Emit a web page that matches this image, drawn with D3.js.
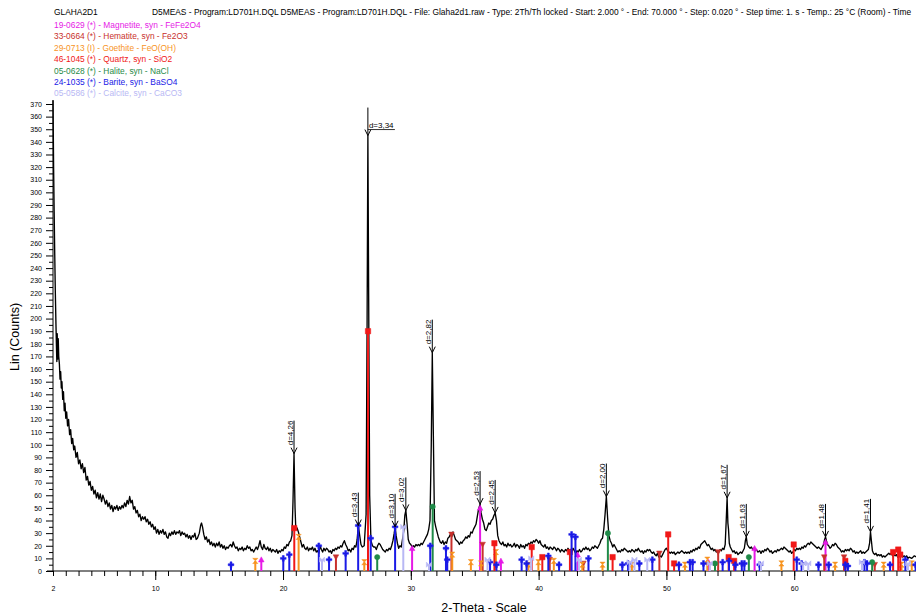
<!DOCTYPE html>
<html><head><meta charset="utf-8">
<script src="https://cdn.jsdelivr.net/npm/d3@7"></script>
<style>body{margin:0;background:#fff} svg{display:block;font-family:"Liberation Sans",Arial,sans-serif}</style>
</head><body><svg id="c" width="916" height="616"></svg>
<script>
// ---------- DATA ----------
const headerId = "GLAHA2D1";
const headerInfo = "D5MEAS - Program:LD701H.DQL D5MEAS - Program:LD701H.DQL - File: Glaha2d1.raw - Type: 2Th/Th locked - Start: 2.000 ° - End: 70.000 ° - Step: 0.020 ° - Step time: 1. s - Temp.: 25 °C (Room) - Time";
const phaseNames = [
  "19-0629 (*) - Magnetite, syn - FeFe2O4",
  "33-0664 (*) - Hematite, syn - Fe2O3",
  "29-0713 (I) - Goethite - FeO(OH)",
  "46-1045 (*) - Quartz, syn - SiO2",
  "05-0628 (*) - Halite, syn - NaCl",
  "24-1035 (*) - Barite, syn - BaSO4",
  "05-0586 (*) - Calcite, syn - CaCO3"
];
const xTickLabels = [2,10,20,30,40,50,60];
const yTickLabels = d3.range(0, 371, 10);
const xTitle = "2-Theta - Scale";
const yTitle = "Lin (Counts)";

// measured scan [2theta, counts]
const scan = [
[2.0,373],[2.02,350],[2.05,318],[2.09,285],[2.13,255],[2.18,222],[2.23,196],[2.27,178],[2.3,166],[2.33,188],[2.37,168],[2.41,184],[2.45,170],[2.5,164],[2.55,152],[2.6,158],[2.65,145],[2.7,150],[2.76,136],[2.82,142],[2.88,127],[2.94,133],[3.0,121],[3.07,126],[3.14,115],[3.22,120],[3.3,108],[3.38,112],[3.46,101],[3.54,105],[3.62,96],[3.7,99],[3.8,90],[3.9,94],[4.0,85],[4.1,88],[4.2,81],[4.3,85],[4.4,78],[4.5,82],[4.6,72],[4.7,75],[4.8,68],[4.9,71],[5.0,64],[5.1,67],[5.2,61],[5.3,64],[5.4,58],[5.5,62],[5.6,57],[5.7,61],[5.8,55],[5.9,60],
[6.0,57],[6.1,53],[6.2,56],[6.3,51],[6.4,54],[6.5,49],[6.6,52],[6.7,47],[6.8,51],[6.9,49],[7.0,52],[7.1,48],[7.2,51],[7.3,49],[7.4,52],[7.5,50],[7.6,54],[7.7,51],[7.8,56],[7.9,53],[8.0,59],[8.1,54],[8.2,56],[8.3,49],[8.4,51],[8.5,46],[8.6,48],[8.7,43],[8.8,45],[8.9,40],[9.0,43],
[9.1,41],[9.2,43],[9.3,39],[9.4,41],[9.5,37],[9.6,39],[9.7,35],[9.8,37],[9.9,33],[10.0,35],[10.1,30],[10.2,33],[10.3,29],[10.4,32],[10.5,30],[10.6,33],[10.7,29],[10.8,31],[10.9,27],[11.0,26],[11.1,30],[11.2,28],[11.3,31],[11.4,29],[11.5,32],[11.6,29],[11.7,31],[11.8,30],[11.9,32],[12.0,28],[12.1,31],[12.2,29],[12.3,30],[12.4,27],[12.5,29],[12.6,26],[12.7,28],[12.8,25],[12.9,28],[13.0,27],[13.1,30],[13.2,25],[13.3,26],[13.45,30],[13.55,36],[13.62,38],[13.7,35],[13.8,29],[13.9,25],
[14.0,27],[14.1,23],[14.2,25],[14.3,21],[14.4,23],[14.5,20],[14.6,22],[14.7,19],[14.8,22],[14.9,20],[15.0,23],[15.1,19],[15.2,21],[15.3,18],[15.4,20],[15.5,17],[15.6,19],[15.7,18],[15.8,20],[15.9,21],[16.0,19],[16.1,23],[16.2,20],[16.3,18],[16.4,19],[16.5,16],[16.6,18],[16.7,17],[16.8,19],[16.9,16],[17.0,18],[17.1,17],[17.2,20],[17.3,18],[17.4,19],[17.5,16],[17.6,17],[17.7,15],[17.8,17],[17.9,19],[18.0,17],[18.1,20],[18.2,24],[18.3,19],[18.4,17],[18.5,21],[18.6,18],[18.7,17],[18.8,19],[18.9,16],[19.0,18],[19.1,15],[19.2,17],[19.3,16],[19.4,15],[19.5,17],[19.6,14],[19.7,16],[19.8,15],[19.9,17],[20.0,16],[20.1,19],[20.2,18],[20.3,21],[20.4,20],[20.5,23],[20.6,24],[20.7,28],[20.78,55],[20.86,93],[20.94,50],[21.0,33],[21.1,34],[21.2,31],[21.3,27],[21.4,23],
[21.5,19],[21.6,21],[21.7,18],[21.8,17],[21.9,19],[22.0,16],[22.1,18],[22.2,17],[22.3,19],[22.4,16],[22.5,18],[22.6,15],[22.7,16],[22.8,14],[22.9,20],[23.0,17],[23.1,15],[23.2,18],[23.3,16],[23.4,18],[23.5,17],[23.6,15],[23.7,16],[23.8,14],[23.9,17],[24.0,16],[24.1,18],[24.2,17],[24.3,19],[24.4,18],[24.5,20],[24.6,19],[24.7,22],[24.8,24],[24.9,21],[25.0,19],[25.1,16],[25.2,17],[25.3,15],[25.4,18],[25.5,17],[25.6,20],[25.7,19],[25.8,25],[25.89,36],[26.0,28],[26.1,21],[26.2,19],[26.35,20],[26.5,45],[26.58,200],[26.64,345],[26.7,220],[26.78,60],[26.88,24],[27.0,20],[27.1,19],
[27.2,19],[27.3,17],[27.4,20],[27.5,22],[27.6,21],[27.7,19],[27.8,17],[27.9,16],[28.0,15],[28.1,17],[28.2,16],[28.3,18],[28.4,17],[28.5,20],[28.6,24],[28.7,30],[28.77,35],[28.85,28],[28.95,22],[29.05,18],[29.15,20],[29.25,19],[29.35,25],[29.45,32],[29.53,44],[29.61,48],[29.7,38],[29.8,25],[29.9,22],[30.0,21],[30.1,19],[30.2,20],[30.3,19],[30.4,21],[30.5,20],[30.6,21],[30.7,20],[30.8,22],[30.9,21],[31.0,23],[31.1,25],[31.2,27],[31.3,29],[31.4,33],[31.5,40],[31.6,100],[31.68,173],[31.76,110],[31.85,40],[31.95,35],[32.05,31],[32.15,27],[32.3,23],
[32.4,22],[32.5,24],[32.6,21],[32.7,23],[32.8,22],[32.9,26],[33.0,27],[33.1,29],[33.2,27],[33.3,31],[33.4,28],[33.5,25],[33.6,24],[33.7,23],[33.8,21],[33.9,23],[34.0,22],[34.1,24],[34.2,25],[34.3,27],[34.4,26],[34.5,28],[34.6,27],[34.7,31],[34.8,30],[34.9,33],[35.0,35],[35.1,37],[35.2,43],[35.3,49],[35.42,53],[35.5,46],[35.6,41],[35.7,38],[35.8,33],[35.9,32],[36.0,35],[36.1,38],[36.2,37],[36.3,40],[36.4,41],[36.5,44],[36.6,46],[36.7,40],[36.8,28],[36.9,24],[37.0,22],
[37.1,21],[37.2,23],[37.3,20],[37.4,21],[37.5,19],[37.6,22],[37.7,20],[37.8,21],[37.9,19],[38.0,20],[38.1,22],[38.2,19],[38.3,21],[38.4,20],[38.5,18],[38.6,21],[38.7,19],[38.8,20],[38.9,18],[39.0,21],[39.1,20],[39.2,22],[39.3,21],[39.4,23],[39.5,22],[39.6,24],[39.7,23],[39.8,25],[39.9,24],[40.0,22],[40.1,24],[40.2,21],[40.3,20],[40.4,19],[40.5,21],[40.6,18],[40.7,19],[40.8,17],[40.9,19],[41.0,18],[41.1,17],[41.2,19],[41.3,18],[41.4,16],[41.5,18],[41.6,17],[41.7,15],[41.8,17],[41.9,16],[42.0,15],[42.1,17],[42.2,16],[42.3,18],[42.4,16],[42.5,17],[42.6,15],[42.7,18],[42.8,16],[42.9,14],[43.0,16],[43.1,15],[43.2,17],[43.3,15],[43.4,16],[43.5,18],[43.6,17],[43.7,19],[43.8,17],[43.9,18],[44.0,16],[44.1,17],[44.2,19],[44.3,18],[44.4,20],[44.5,19],[44.6,18],[44.7,20],[44.8,22],[44.9,25],[45.0,26],[45.1,33],[45.2,45],[45.3,59],[45.4,42],[45.5,28],[45.6,24],[45.7,22],[45.8,19],[45.9,21],
[46.0,19],[46.1,17],[46.2,15],[46.3,16],[46.4,15],[46.5,17],[46.6,16],[46.7,18],[46.8,17],[46.9,16],[47.0,15],[47.1,16],[47.2,15],[47.3,17],[47.4,16],[47.5,15],[47.6,17],[47.7,16],[47.8,18],[47.9,16],[48.0,15],[48.1,16],[48.2,14],[48.3,16],[48.4,15],[48.5,17],[48.6,16],[48.7,17],[48.8,15],[48.9,14],[49.0,15],[49.1,13],[49.2,12],[49.3,14],[49.4,11],[49.5,12],[49.6,11],[49.7,13],[49.8,15],[49.9,17],[50.0,18],[50.1,16],[50.2,15],[50.3,14],[50.4,15],[50.5,14],[50.6,15],[50.7,13],[50.8,14],[50.9,15],[51.0,14],[51.1,15],[51.2,16],[51.3,15],[51.4,14],[51.5,15],[51.6,14],[51.7,15],[51.8,14],[51.9,16],[52.0,15],[52.1,17],[52.2,16],[52.3,18],[52.4,17],[52.5,19],[52.6,18],[52.7,21],[52.8,22],[52.9,23],[53.0,24],[53.1,22],[53.2,20],[53.3,21],[53.4,19],[53.5,17],[53.6,18],[53.7,16],[53.8,17],[53.9,15],[54.0,16],[54.1,15],[54.2,17],[54.3,16],[54.4,18],[54.5,17],[54.6,21],[54.68,40],[54.75,58],[54.81,38],[54.86,33],[54.92,22],[55.0,19],[55.1,17],[55.2,15],[55.3,16],[55.4,14],[55.5,15],[55.6,13],[55.7,14],[55.8,15],[55.9,14],[56.0,16],[56.1,18],[56.18,24],[56.25,27],[56.33,21],[56.45,19],[56.55,18],[56.65,19],[56.75,17],[56.85,18],[56.95,16],[57.05,17],[57.15,15],[57.3,16],[57.4,14],
[57.5,16],[57.6,15],[57.7,17],[57.8,16],[57.9,18],[58.0,17],[58.1,15],[58.2,16],[58.3,14],[58.4,15],[58.5,16],[58.6,15],[58.7,17],[58.8,16],[58.9,17],[59.0,18],[59.1,17],[59.2,19],[59.3,18],[59.4,17],[59.5,16],[59.6,15],[59.7,16],[59.8,14],[59.9,15],[60.0,17],[60.1,16],[60.2,18],[60.3,17],[60.4,18],[60.5,17],[60.6,19],[60.7,18],[60.8,20],[60.9,19],[61.0,21],[61.1,22],[61.2,21],[61.3,23],[61.4,22],[61.5,21],[61.6,20],[61.7,19],[61.8,18],[61.9,19],[62.0,18],[62.1,17],[62.2,19],[62.3,21],[62.38,25],[62.45,27],[62.52,24],[62.6,21],[62.7,20],[62.8,18],[62.9,19],[63.0,21],[63.1,20],[63.2,22],[63.3,21],[63.4,19],[63.5,18],[63.6,17],[63.7,15],[63.8,16],[63.9,15],[64.0,17],[64.1,16],[64.2,17],[64.3,16],[64.4,18],[64.5,17],[64.6,15],[64.7,16],[64.8,14],[64.9,15],[65.0,14],[65.1,15],[65.2,16],[65.3,14],[65.4,15],[65.5,14],[65.6,15],[65.7,16],[65.8,17],[65.9,22],[65.97,31],[66.04,24],[66.12,16],[66.2,14],[66.3,13],[66.4,14],[66.5,12],[66.6,13],[66.7,12],[66.8,13],[66.9,11],[67.0,12],[67.1,11],[67.2,12],[67.3,13],[67.4,14],[67.5,13],[67.6,14],[67.7,12],[67.8,13],[67.9,12],[68.0,13],[68.1,11],[68.2,12],[68.3,13],[68.4,12],[68.5,11],[68.6,12],[68.7,11],[68.8,12],[68.9,10],[69.0,11],[69.2,10],[69.4,12],[69.6,11]
];

// labelled peaks
const peakAngles = [20.86, 25.89, 26.64, 28.77, 29.61, 31.68, 35.42, 36.6, 45.3, 54.75, 56.25, 62.45, 65.97];
const peakCounts = [93, 36, 345, 35, 48, 173, 53, 46, 59, 58, 27, 27, 31];
const peakLabels = ["d=4,26","d=3,43","d=3,34","d=3,10","d=3,02","d=2,82","d=2,53","d=2,45","d=2,00","d=1,67","d=1,63","d=1,48","d=1,41"];

// reference patterns [2theta, counts]
const magnetiteSticks = [[18.3,9],[30.1,18],[35.42,50],[37.05,8],[43.05,13],[53.3,7],[56.9,18],[62.45,23]];
const hematiteSticks = [[24.14,11],[33.18,29],[35.62,21],[40.87,9],[43.5,6],[49.45,14],[54.05,15],[62.35,11],[63.9,11],[66.3,5]];
const goethiteSticks = [[17.83,8],[21.22,27],[26.36,7],[33.24,13],[34.7,7],[35.5,6],[36.66,15],[39.2,5],[39.98,7],[41.19,8],[43.42,5],[45.0,5],[47.3,5],[51.45,5],[53.2,9],[59.0,6],[63.2,5],[67.0,5],[68.4,5],[69.2,6]];
const quartzSticks = [[20.88,34],[26.65,190],[36.54,22],[39.46,19],[40.29,11],[42.45,15],[45.79,11],[50.14,29],[50.6,6],[54.87,11],[55.3,8],[59.96,21],[64.0,8],[67.74,15],[68.14,17],[68.3,13]];
const haliteSticks = [[27.37,11],[31.71,51],[45.42,30],[53.8,6],[56.45,11],[66.1,7]];
const bariteSticks = [[15.93,5],[20.02,10],[20.49,13],[22.8,20],[23.6,9],[24.9,14],[25.88,36],[26.86,26],[28.77,35],[31.52,20],[32.75,18],[32.85,9],[36.2,7],[36.7,5],[38.67,9],[39.06,6],[40.76,12],[41.6,5],[42.58,29],[42.88,27],[43.9,10],[46.55,5],[47.0,6],[47.88,6],[48.9,9],[50.98,5],[51.84,7],[52.05,7],[52.9,6],[54.4,7],[54.9,8],[55.4,5],[55.9,6],[56.1,6],[57.3,5],[60.2,9],[60.58,6],[61.9,5],[62.7,5],[64.0,5],[64.2,4],[65.5,7],[65.7,6],[67.5,5],[68.7,9],[69.5,5]];
const calciteSticks = [[23.05,9],[29.41,35],[31.42,5],[36.0,9],[39.42,10],[43.15,9],[47.12,7],[47.5,9],[48.5,9],[53.4,6],[57.4,6],[60.7,6],[61.1,6],[65.3,7],[68.9,6]];

// ---------- STYLE ----------
const phaseColors = ["#e619e6","#c8302c","#f7931e","#f01818","#1f8a48","#1a1ae6","#b8b8f4"];
const markerPaths = [
  "M0,-2.8L2.8,2.3L-2.8,2.3Z",            // triangle up
  "M0,2.8L2.8,-2.3L-2.8,-2.3Z",            // triangle down
  "M-2.6,-2.6H2.6L-2.6,2.6H2.6Z",          // hourglass
  "M-2.7,-2.7H2.7V2.7H-2.7Z",              // square
  d3.symbol(d3.symbolCircle, 22)(),        // circle
  d3.symbol(d3.symbolCross, 18)(),         // cross
  "M-2.6,-2.6V2.6L2.6,-2.6V2.6Z"           // bowtie
];
const allSticks = [magnetiteSticks, hematiteSticks, goethiteSticks, quartzSticks, haliteSticks, bariteSticks, calciteSticks];

const svg = d3.select("#c");
const x = d3.scaleLinear().domain([2,70]).range([53,922]);
const y = d3.scaleLinear().domain([0,370]).range([571,104]);

// header & legend
svg.append("text").attr("x",54).attr("y",15).attr("font-size",8.4).text(headerId);
svg.append("text").attr("x",152).attr("y",15).attr("font-size",8.4).text(headerInfo);
phaseNames.forEach((n,i)=>{
  svg.append("text").attr("x",54).attr("y",28+i*11.4).attr("font-size",8.4)
    .attr("fill",phaseColors[i]).text(n);
});

// axes
const g = svg.append("g");
g.append("line").attr("x1",x(2)).attr("x2",x(2)).attr("y1",y(0)).attr("y2",y(373)).attr("stroke","#000");
g.append("line").attr("x1",47).attr("x2",916).attr("y1",y(0)).attr("y2",y(0)).attr("stroke","#000");

const yMaj = g.append("g").attr("transform",`translate(${x(2)},0)`)
  .call(d3.axisLeft(y).tickValues(yTickLabels).tickSize(7).tickSizeOuter(0).tickPadding(4));
yMaj.select(".domain").remove();
yMaj.selectAll("text").attr("font-size",7).attr("font-family","Liberation Sans, Arial, sans-serif");
const yMin = g.append("g").attr("transform",`translate(${x(2)},0)`)
  .call(d3.axisLeft(y).tickValues(d3.range(5,371,10)).tickSize(4).tickFormat(""));
yMin.select(".domain").remove();

const xMin = g.append("g").attr("transform",`translate(0,${y(0)})`)
  .call(d3.axisBottom(x).tickValues(d3.range(2,70,1)).tickSize(5).tickFormat(""));
xMin.select(".domain").remove();
const xMaj = g.append("g").attr("transform",`translate(0,${y(0)})`)
  .call(d3.axisBottom(x).tickValues(xTickLabels).tickSize(9).tickPadding(6).tickFormat(d3.format("d")));
xMaj.select(".domain").remove();
xMaj.selectAll(".tick line").filter(d=>d===2).attr("y2",5);
xMaj.selectAll("text").attr("font-size",7).attr("font-family","Liberation Sans, Arial, sans-serif");

svg.append("text").attr("x",484).attr("y",612).attr("text-anchor","middle").attr("font-size",12.5).text(xTitle);
svg.append("text").attr("transform","translate(19,337) rotate(-90)").attr("text-anchor","middle").attr("font-size",12.5).text(yTitle);

// scan
svg.append("defs").append("clipPath").attr("id","clip").append("rect").attr("x",x(2)-1).attr("y",0).attr("width",916).attr("height",y(0)+1);
const plot = svg.append("g").attr("clip-path","url(#clip)");
plot.append("path").datum(scan).attr("fill","none").attr("stroke","#000").attr("stroke-width",1.35)
  .attr("stroke-linejoin","round")
  .attr("d", d3.line().x(d=>x(d[0])).y(d=>y(d[1])));

// sticks
allSticks.forEach((arr,i)=>{
  const sg = plot.append("g");
  sg.selectAll("line").data(arr).join("line")
    .attr("x1",d=>x(d[0])).attr("x2",d=>x(d[0]))
    .attr("y1",y(0)).attr("y2",d=>y(d[1]))
    .attr("stroke",phaseColors[i]).attr("stroke-width",2);
  sg.selectAll("path").data(arr).join("path")
    .attr("d",markerPaths[i])
    .attr("transform",d=>`translate(${x(d[0])},${y(d[1])})`)
    .attr("fill",phaseColors[i]).attr("stroke",phaseColors[i]).attr("stroke-width",0.5);
});

// peak labels
peakAngles.forEach((a,i)=>{
  const px = x(a), py = y(peakCounts[i]);
  const lg = svg.append("g");
  lg.append("path").attr("d",`M${px-3},${py-6}L${px},${py}L${px+3},${py-6}`).attr("fill","none").attr("stroke","#000").attr("stroke-width",1);
  if (peakCounts[i] > 300) {
    lg.append("line").attr("x1",px).attr("x2",px).attr("y1",py-28).attr("y2",py).attr("stroke","#000");
    lg.append("line").attr("x1",px).attr("x2",px+27).attr("y1",py-6).attr("y2",py-6).attr("stroke","#000").attr("stroke-width",0.8);
    lg.append("text").attr("x",px+1).attr("y",py-8).attr("font-size",8).text(peakLabels[i]);
  } else {
    lg.append("line").attr("x1",px).attr("x2",px).attr("y1",py-33).attr("y2",py).attr("stroke","#000");
    lg.append("text").attr("transform",`translate(${px-1.5},${py-33}) rotate(-90)`)
      .attr("text-anchor","end").attr("font-size",8).text(peakLabels[i]);
  }
});
</script></body></html>
